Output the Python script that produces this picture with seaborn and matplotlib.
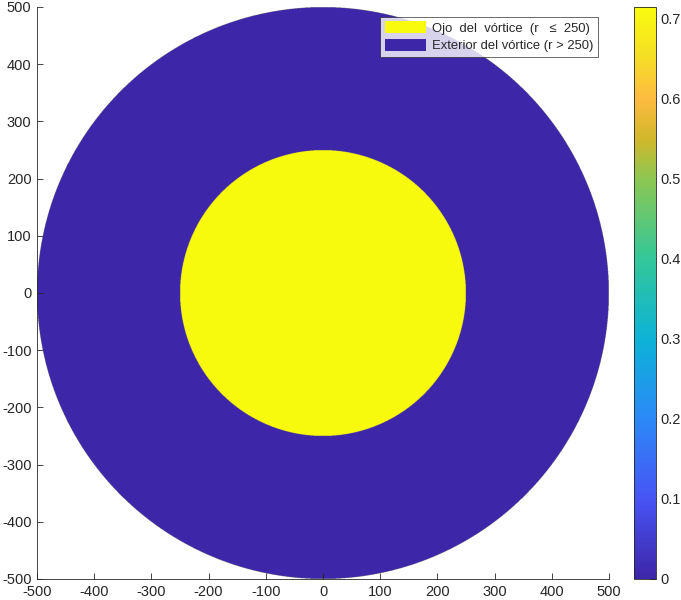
import numpy as np
import matplotlib
matplotlib.use("Agg")
import matplotlib.pyplot as plt
from matplotlib.colors import LinearSegmentedColormap
from matplotlib.patches import Patch
import seaborn as sns

# data
eye_radius = 250
outer_radius = 500
eye_value = 0.715
outer_value = 0.0
axis_ticks = [-500, -400, -300, -200, -100, 0, 100, 200, 300, 400, 500]
cbar_ticks = [0, 0.1, 0.2, 0.3, 0.4, 0.5, 0.6, 0.7]
cbar_labels = ["0", "0.1", "0.2", "0.3", "0.4", "0.5", "0.6", "0.7"]
legend_labels = ["Ojo  del  vórtice  (r   \u2264  250)", "Exterior del vórtice (r > 250)"]

# parula-like colormap (positions, colours)
parula_pts = [
    (0.00, (0.242, 0.150, 0.660)),
    (0.14, (0.280, 0.330, 0.960)),
    (0.28, (0.170, 0.540, 0.970)),
    (0.42, (0.050, 0.700, 0.840)),
    (0.56, (0.200, 0.780, 0.600)),
    (0.70, (0.550, 0.780, 0.320)),
    (0.77, (0.820, 0.720, 0.170)),
    (0.84, (0.990, 0.730, 0.250)),
    (0.92, (0.960, 0.880, 0.140)),
    (1.00, (0.976, 0.983, 0.054)),
]
parula = LinearSegmentedColormap.from_list("parula", parula_pts, N=256)

sns.set_theme(style="white")
plt.rcParams['font.family'] = ['Liberation Sans', 'DejaVu Sans']
plt.rcParams['axes.unicode_minus'] = False

# grid
x = np.linspace(-outer_radius, outer_radius, 2001)
X, Y = np.meshgrid(x, x)
R = np.sqrt(X**2 + Y**2)
Z = np.where(R <= eye_radius, eye_value, outer_value)
Z = np.where(R <= outer_radius, Z, np.nan)

fig = plt.figure(figsize=(6.81, 6.00), dpi=100)
ax = fig.add_axes([37/681, 21/600, 572/681, 572/600])
cax = fig.add_axes([634/681, 21/600, 22/681, 572/600])

img = ax.imshow(Z, cmap=parula, vmin=0, vmax=eye_value, origin="lower",
                extent=(-outer_radius, outer_radius, -outer_radius, outer_radius),
                interpolation="antialiased", interpolation_stage="rgba")
ax.set_xlim(-500, 500)
ax.set_ylim(-500, 500)
ax.set_aspect("equal")
ax.set_xticks(axis_ticks)
ax.set_yticks(axis_ticks)
ax.tick_params(direction="in", length=4, width=0.6, colors="#262626", labelsize=10.5,
               bottom=True, left=True, pad=4)
for s in ["top", "right"]:
    ax.spines[s].set_visible(False)
for s in ["bottom", "left"]:
    ax.spines[s].set_color("#262626")
    ax.spines[s].set_linewidth(0.6)

cb = fig.colorbar(img, cax=cax)
cb.set_ticks(cbar_ticks)
cb.set_ticklabels(cbar_labels)
cb.ax.tick_params(direction="in", length=4, width=0.6, colors="#262626", labelsize=10.5)
cb.outline.set_edgecolor("#262626")
cb.outline.set_linewidth(0.6)

handles = [Patch(facecolor=parula(1.0), edgecolor="none"),
           Patch(facecolor=parula(0.0), edgecolor="none")]
leg = ax.legend(handles, legend_labels, loc="upper right", bbox_to_anchor=(0.98, 0.983),
                fontsize=9.4, frameon=True, fancybox=False, handlelength=3.2,
                handleheight=1.0, borderpad=0.35, labelspacing=0.35, handletextpad=0.4,
                borderaxespad=0)
leg.get_frame().set_edgecolor("#262626")
leg.get_frame().set_linewidth(0.6)

fig.savefig("out.png", dpi=100)
